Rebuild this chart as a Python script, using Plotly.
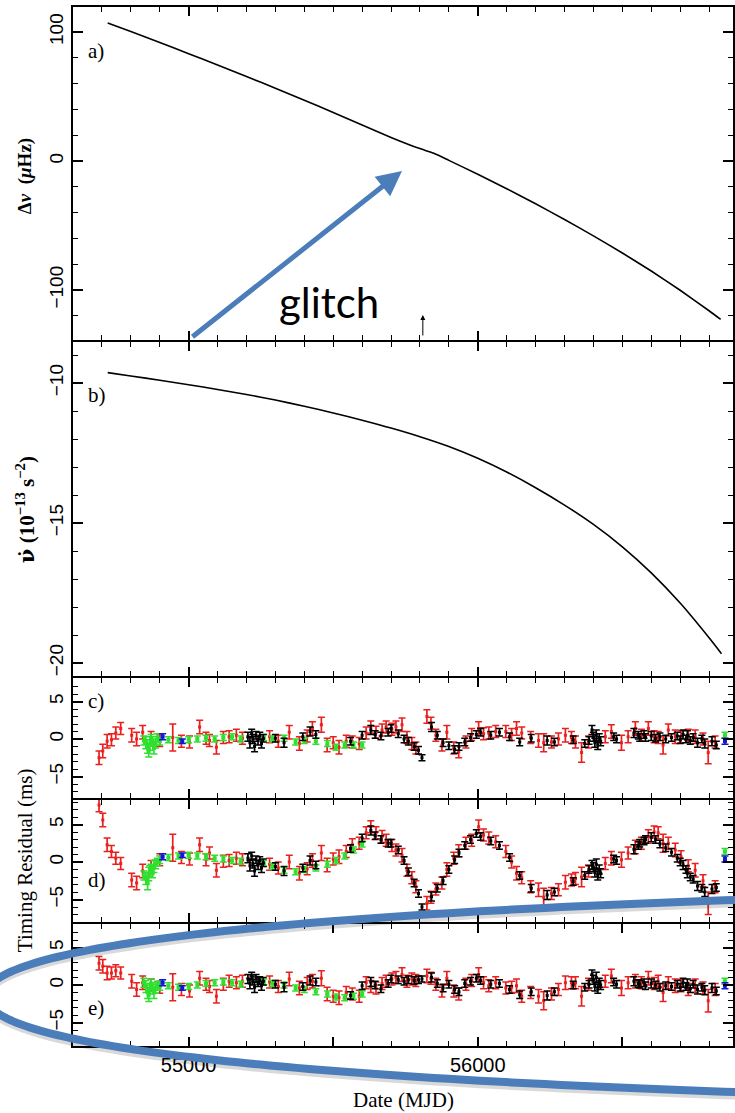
import plotly.graph_objects as go

# ---------------- data ----------------
# panel a: frequency offset (muHz)
mjd_a = [54720, 54800, 54900, 55000, 55100, 55200, 55300, 55400, 55500, 55600, 55700,
         55797, 55848, 55900, 56000, 56100, 56200, 56300, 56400, 56500, 56600, 56700,
         56800, 56840]
dnu = [107.0, 100.3, 91.8, 83.2, 74.4, 65.5, 56.4, 47.1, 37.6, 27.9, 18.3,
       9.8, 6.0, 0.5, -10.3, -21.5, -33.2, -45.3, -58.0, -71.3, -85.3, -100.2,
       -116.1, -122.8]

# panel b: frequency derivative (1e-13 s^-2)
mjd_b = [54720, 54800, 54900, 55000, 55100, 55200, 55300, 55400, 55500, 55600, 55700,
         55800, 55900, 56000, 56100, 56200, 56300, 56400, 56500, 56600, 56700, 56800,
         56843]
nudot = [-9.63, -9.75, -9.90, -10.06, -10.23, -10.41, -10.61, -10.83, -11.07, -11.33, -11.61,
         -11.92, -12.27, -12.69, -13.18, -13.74, -14.36, -15.05, -15.85, -16.78, -17.86, -19.10,
         -19.67]

# residuals (ms) -- red TOAs
red_mjd = [54690, 54703, 54718, 54733, 54748, 54765, 54803, 54820, 54841, 54870,
           54900, 54945, 54975, 55003, 55038, 55060, 55072, 55096, 55120, 55140,
           55165, 55186, 55280, 55310, 55348, 55383, 55410, 55428, 55459, 55479,
           55500, 55520, 55545, 55566, 55590, 55614, 55630, 55648, 55669, 55683,
           55703, 55717, 55738, 55755, 55772, 55786, 55824, 55838, 55855, 55876,
           55893, 55917, 55934, 55959, 55979, 56003, 56020, 56038, 56062, 56097,
           56117, 56134, 56152, 56183, 56210, 56228, 56255, 56279, 56303, 56324,
           56338, 56359, 56383, 56441, 56462, 56497, 56520, 56545, 56566, 56590,
           56610, 56624, 56641, 56659, 56683, 56703, 56728, 56752, 56779, 56797,
           56821]
red_c = [-2.5, -1.6, -0.3, -0.1, 0.8, 1.4, 0.5, 0.0, 0.9, 0.2,
         -0.2, 0.2, -0.3, -0.4, 1.6, 0.1, -0.2, -1.1, 0.2, 0.3,
         0.5, 0.1, 0.3, -0.3, 0.9, -0.6, 0.4, 1.4, 1.9, -0.8,
         -0.5, -1.1, -0.3, -0.4, -0.6, 0.8, 1.6, 0.9, 1.2, 1.6,
         1.3, 1.6, 1.9, 0.2, -0.6, -1.2, 3.0, 2.1, 0.5, -0.8,
         0.9, -1.2, -1.7, -0.4, 0.6, 1.4, 0.7, 0.8, 1.0, 1.0,
         0.6, 1.4, 0.8, 0.2, -0.2, -0.5, -0.4, 0.0, 0.5, 0.2,
         -0.4, -1.8, -0.4, 0.3, 1.0, -0.5, 0.3, 1.4, 0.5, 1.4,
         0.3, 0.2, -0.8, 1.2, 0.3, 0.3, 0.5, 0.3, 0.0, -1.8,
         -0.4]
red_d = [7.6, 5.6, 2.3, 1.4, 0.5, -0.2, -2.4, -2.8, -1.2, -0.6,
         0.3, 1.9, 0.6, 0.4, 2.3, 0.3, 1.2, -1.1, 0.1, 0.2,
         0.5, 0.3, -0.3, -0.8, 0.0, -1.5, -0.9, 0.2, 1.2, -0.4,
         0.4, 0.7, 1.4, 2.3, 2.5, 3.9, 4.7, 3.9, 3.4, 2.9,
         2.2, 1.6, 0.9, -1.1, -2.1, -3.3, -5.5, -4.7, -3.6, -2.8,
         -1.0, 0.5, 1.5, 2.5, 2.9, 4.7, 3.6, 3.2, 2.7, 1.4,
         0.0, -1.5, -2.1, -3.3, -3.7, -4.7, -4.2, -3.7, -2.7, -2.4,
         -2.2, -2.0, -1.2, -0.2, 0.5, 0.3, 1.2, 2.0, 2.5, 3.4,
         4.0, 3.9, 2.5, 2.5, 1.6, 0.7, -0.5, -1.1, -2.5, -5.5,
         -3.3]
red_e = [2.9, 2.5, 1.6, 1.6, 1.9, 1.6, 0.5, -0.6, 0.3, 0.0,
         -0.3, -0.3, -0.6, -0.8, 0.9, 0.1, -0.2, -1.5, 0.1, 0.5,
         0.3, 0.5, 0.4, -0.2, 0.8, -0.4, 0.2, 0.5, 0.9, -1.2,
         -1.5, -1.7, -1.0, -1.2, -1.5, 0.3, -0.2, -0.4, 0.2, 0.5,
         0.8, 1.0, 1.4, 0.5, 0.8, 0.6, 1.2, 0.9, 0.1, -0.8,
         0.9, -0.8, -1.2, 0.1, 0.6, 1.4, 0.3, -0.1, 0.3, -0.4,
         -0.3, -0.1, -1.5, -1.0, -1.5, -2.1, -1.2, -0.6, 0.3, 0.3,
         0.3, -1.5, 0.1, 0.5, 1.2, -0.4, 0.3, 0.5, 0.3, 0.9,
         0.2, 0.5, -1.0, 0.3, -0.1, -0.1, -0.6, -0.1, -0.4, -2.1,
         -0.6]
red_err = [0.9, 0.9, 0.9, 0.8, 0.8, 0.8, 0.9, 0.9, 0.9, 0.8,
           0.8, 1.8, 0.8, 0.8, 0.9, 0.8, 0.8, 0.9, 0.8, 0.8,
           0.8, 0.8, 0.8, 0.8, 0.9, 0.9, 0.8, 0.9, 1.0, 0.9,
           0.8, 0.9, 0.8, 0.8, 0.8, 0.8, 0.8, 0.8, 0.8, 0.8,
           0.8, 0.8, 0.9, 0.8, 0.8, 0.8, 0.9, 0.8, 0.8, 0.8,
           0.9, 0.8, 0.8, 0.8, 0.8, 0.9, 0.8, 0.8, 0.8, 0.8,
           0.8, 0.9, 0.8, 0.8, 0.9, 1.2, 0.8, 0.8, 0.9, 0.8,
           0.8, 1.3, 0.8, 0.8, 0.9, 1.0, 0.8, 0.9, 0.8, 0.9,
           0.8, 0.8, 1.2, 0.8, 0.9, 0.8, 0.8, 0.9, 0.8, 1.5,
           0.8]

# black TOAs
blk_mjd = [55205, 55212, 55218, 55222, 55228, 55233, 55240, 55246, 55252, 55258,
           55300, 55330, 55395, 55420, 55440, 55560, 55600, 55630, 55645, 55665,
           55690, 55700, 55725, 55745, 55760, 55780, 55795, 55807, 55840, 55860,
           55880, 55900, 55920, 55935, 55955, 55975, 55995, 56010, 56045, 56075,
           56110, 56145, 56185, 56240, 56265, 56330, 56370, 56385, 56395, 56400,
           56405, 56410, 56415, 56420, 56425, 56470, 56480, 56540, 56555, 56560,
           56575, 56580, 56600, 56615, 56630, 56650, 56670, 56690, 56700, 56710,
           56720, 56725, 56735, 56745, 56760, 56775, 56785, 56810, 56825]
blk_c = [0.3, -0.5, 0.8, 0.0, -1.0, 0.5, -0.2, 0.4, -0.6, 0.1,
         0.1, -0.5, 0.3, 1.0, 0.6, -0.3, 0.5, 1.2, 0.6, 0.4,
         0.9, 1.4, 0.7, 0.0, -0.3, -1.0, -1.5, -2.5, 1.6, 0.5,
         -0.5, -0.9, -1.4, -1.0, -0.4, 0.2, 0.6, 0.9, 0.5, 0.9,
         0.3, -0.4, 0.1, -0.2, -0.4, -0.1, -0.6, -0.2, 1.2, 0.3,
         -0.5, 0.5, -0.8, 0.1, -0.3, 0.3, 0.0, 0.8, 0.5, 0.2,
         0.6, 0.2, 0.4, 0.1, 0.3, 0.0, 0.2, 0.4, -0.1, 0.6,
         0.0, 0.5, -0.2, 0.2, -0.5, 0.0, -0.6, -0.3, -0.8]
blk_d = [0.5, -0.5, 0.8, -0.2, -1.2, 0.3, -0.4, 0.2, -0.8, -0.1,
         -0.6, -1.2, -0.8, 0.2, -0.4, 1.8, 3.2, 4.2, 3.5, 3.0,
         2.5, 2.5, 1.6, 0.2, -1.3, -2.8, -4.2, -6.0, -4.6, -3.5,
         -2.5, -1.0, 0.3, 1.2, 2.2, 3.0, 3.8, 3.4, 2.8, 2.2,
         0.6, -1.8, -3.5, -4.4, -4.0, -2.6, -1.8, -1.0, -0.4, -0.7,
         -1.4, -0.3, -1.8, -1.0, -1.5, 0.4, 0.2, 1.7, 2.2, 2.5,
         2.8, 3.0, 3.3, 3.0, 2.4, 1.9, 1.3, 0.5, 0.0, -0.4,
         -1.0, -1.5, -2.0, -2.3, -3.2, -3.5, -4.0, -3.6, -3.4]
blk_e = [0.8, 0.2, 1.2, 0.6, -0.3, 0.9, 0.4, 0.6, -0.1, 0.5,
         0.1, -0.3, -0.2, 0.6, 0.4, -1.4, -0.1, 0.4, 0.0, -0.5,
         0.2, 0.8, 0.7, 0.5, 0.7, 0.6, 0.7, 0.8, 1.0, 0.2,
         -0.4, 0.1, -0.6, -0.9, 0.2, 0.5, 0.9, 0.6, 0.1, 0.2,
         -0.6, -1.3, -0.9, -1.4, -0.9, 0.0, -0.3, 0.1, 1.4, 0.7,
         -0.2, 1.0, -0.5, 0.3, 0.0, 0.4, 0.1, 0.5, 0.2, 0.1,
         0.3, -0.1, 0.2, 0.0, -0.3, -0.1, -0.2, 0.1, -0.3, 0.3,
         -0.2, 0.2, -0.5, 0.1, -0.6, -0.3, -0.7, -0.4, -0.8]
blk_err = [0.6, 0.7, 0.5, 0.6, 0.7, 0.5, 0.6, 0.5, 0.6, 0.5,
           0.5, 0.6, 0.5, 0.6, 0.5, 0.5, 0.5, 0.6, 0.5, 0.5,
           0.5, 0.5, 0.5, 0.5, 0.5, 0.5, 0.5, 0.4, 0.6, 0.5,
           0.5, 0.5, 0.5, 0.5, 0.5, 0.5, 0.5, 0.5, 0.5, 0.5,
           0.5, 0.5, 0.5, 0.6, 0.5, 0.5, 0.5, 0.5, 0.6, 0.6,
           0.6, 0.7, 0.6, 0.6, 0.6, 0.5, 0.5, 0.6, 0.5, 0.5,
           0.5, 0.5, 0.6, 0.5, 0.5, 0.5, 0.5, 0.5, 0.5, 0.6,
           0.5, 0.6, 0.5, 0.5, 0.6, 0.5, 0.6, 0.6, 0.5]

# green TOAs
grn_mjd = [54845, 54852, 54858, 54862, 54866, 54870, 54875, 54880, 54886, 54892,
           54900, 54930, 54965, 55000, 55030, 55060, 55090, 55120, 55150, 55180,
           55260, 55290, 55330, 55370, 55400, 55440, 55480, 55510, 55540, 55570,
           55600, 56855]
grn_c = [-0.2, -0.5, -1.0, -1.5, -0.8, 0.0, -0.3, -1.2, -0.6, 0.2,
         -0.3, -0.1, -0.2, -0.1, 0.0, 0.1, 0.0, 0.2, 0.3, 0.0,
         0.2, 0.0, 0.1, -0.4, -0.2, -0.3, -0.6, -1.1, -0.8, -0.8,
         -0.8, 0.5]
grn_d = [-1.8, -2.2, -2.8, -1.6, -1.2, -0.9, -1.5, -0.6, -0.3, 0.0,
         0.3, 0.6, 0.8, 0.9, 0.8, 0.7, 0.5, 0.4, 0.2, 0.1,
         -0.2, -0.6, -1.1, -1.3, -1.0, -0.8, -0.3, 0.2, 0.8, 1.6,
         2.4, 1.4]
grn_e = [0.3, -0.2, -0.9, -1.3, -0.5, 0.2, -0.3, -1.0, -0.5, 0.0,
         -0.2, -0.1, -0.3, -0.2, 0.0, 0.2, 0.3, 0.4, 0.3, 0.1,
         0.4, 0.2, 0.0, -0.4, -0.6, -0.9, -1.2, -1.6, -1.7, -1.5,
         -1.2, 0.5]
grn_err = [0.6, 0.8, 0.9, 0.9, 0.7, 0.6, 0.6, 0.8, 0.6, 0.5,
           0.5, 0.4, 0.4, 0.4, 0.4, 0.4, 0.4, 0.4, 0.4, 0.4,
           0.4, 0.4, 0.4, 0.4, 0.4, 0.4, 0.4, 0.4, 0.4, 0.4,
           0.4, 0.4]

# blue TOAs
blu_mjd = [54910, 54978, 56855]
blu_c = [0.3, -0.3, -0.3]
blu_d = [0.7, 0.9, 0.4]
blu_e = [0.3, -0.4, -0.1]
blu_err = [0.4, 0.3, 0.4]

x_ticks = [54500, 55000, 55500, 56000, 56500, 57000]
x_ticktext = ["", "55000", "", "56000", "", ""]

# ---------------- geometry ----------------
W, H = 735, 1113
ML, MR, MT, MB = 73, 0, 7, 67
PW = W - ML - MR
PH = H - MT - MB


def px(xp):
    return (xp - ML) / PW


def py(yp):
    return (H - MB - yp) / PH


# pixel extents of each panel's plotting area (top, bottom)
panel_px = [(7, 340), (342, 676), (678, 798), (800, 922), (924, 1046)]
# pixel calibration: (value, pixel y, pixels per unit)
calib = [(0, 161, 1.29), (-10, 383, 28.0), (0, 739, 7.5), (0, 862, 7.5), (0, 985, 7.5)]
domains = []
yranges = []
for (t, b), (v0, p0, s) in zip(panel_px, calib):
    domains.append([max(0.0, py(b)), min(1.0, py(t))])
    yranges.append([v0 - (b - p0) / s, v0 + (p0 - t) / s])

RED = "#e8201e"
GRN = "#2fe02f"
BLU = "#1515d8"
BLK = "#000000"
ELL = "#4a7dba"

fig = go.Figure()

fig.add_trace(go.Scatter(x=mjd_a, y=dnu, mode="lines",
                         line=dict(color="black", width=1.6, shape="spline", smoothing=0.5),
                         xaxis="x", yaxis="y", showlegend=False))
fig.add_trace(go.Scatter(x=mjd_b, y=nudot, mode="lines",
                         line=dict(color="black", width=1.6, shape="spline", smoothing=0.8),
                         xaxis="x2", yaxis="y2", showlegend=False))


def add_res(xs, ys, errs, color, ax, ay, msize):
    fig.add_trace(go.Scatter(
        x=xs, y=ys, mode="markers", xaxis=ax, yaxis=ay, showlegend=False,
        marker=dict(symbol="square", size=msize, color=color),
        error_y=dict(type="data", array=errs, visible=True, color=color, thickness=1.7, width=3.5)))


for i, (rv, bv, gv, uv) in enumerate([(red_c, blk_c, grn_c, blu_c),
                                       (red_d, blk_d, grn_d, blu_d),
                                       (red_e, blk_e, grn_e, blu_e)]):
    ax = "x%d" % (i + 3)
    ay = "y%d" % (i + 3)
    add_res(red_mjd, rv, red_err, RED, ax, ay, 3)
    add_res(grn_mjd, gv, grn_err, GRN, ax, ay, 4)
    add_res(blk_mjd, bv, blk_err, BLK, ax, ay, 3)
    add_res(blu_mjd, uv, blu_err, BLU, ax, ay, 4)

xrange_ = [54600, 54600 + PW / 0.29]
ytickvals = [[-100, 0, 100], [-20, -15, -10], [-5, 0, 5], [-5, 0, 5], [-5, 0, 5]]
yminor = [dict(dtick=20, tick0=0), dict(dtick=1, tick0=0), dict(dtick=1, tick0=0),
          dict(dtick=1, tick0=0), dict(dtick=1, tick0=0)]

tickfont = dict(family="Liberation Sans", size=19, color="black")
layout = dict(width=W, height=H, margin=dict(l=ML, r=MR, t=MT, b=MB),
              paper_bgcolor="white", plot_bgcolor="white", showlegend=False)

for i in range(5):
    sx = "" if i == 0 else str(i + 1)
    layout["xaxis" + sx] = dict(
        domain=[0, 1], anchor="y" + sx, range=xrange_, tickmode="array",
        tickvals=x_ticks, ticktext=x_ticktext, showticklabels=(i == 4),
        ticks="inside", ticklen=9, tickwidth=1.5, tickcolor="black",
        showline=True, linewidth=2, linecolor="black", mirror="allticks",
        showgrid=False, zeroline=False, tickfont=dict(family="Liberation Sans", size=20, color="black"),
        minor=dict(ticks="inside", ticklen=5, tickwidth=1.3, tickcolor="black",
                   tickmode="linear", tick0=54600, dtick=100, showgrid=False),
        matches=None if i == 0 else "x")
    layout["yaxis" + sx] = dict(
        domain=domains[i], anchor="x" + sx, range=yranges[i], tickmode="array",
        tickvals=ytickvals[i], tickangle=-90, ticks="inside", ticklen=10, tickwidth=1.5,
        tickcolor="black", showline=True, linewidth=2, linecolor="black", mirror="allticks",
        showgrid=False, zeroline=False, tickfont=tickfont,
        minor=dict(ticks="inside", ticklen=5, tickwidth=1.3, tickcolor="black",
                   showgrid=False, **yminor[i]))

fig.update_layout(**layout)

serif = "Liberation Serif"
annos = []
# panel labels
for lab, yp in [("a)", 51), ("b)", 395), ("c)", 701), ("d)", 880), ("e)", 1008)]:
    annos.append(dict(x=px(86), y=py(yp), xref="paper", yref="paper", text=lab, showarrow=False,
                      xanchor="left", yanchor="middle", font=dict(family=serif, size=21, color="black")))
# axis titles
annos.append(dict(x=px(25), y=py(176), xref="paper", yref="paper", textangle=-90, showarrow=False,
                  xanchor="center", yanchor="middle",
                  text="<b>Δ<i>ν</i>  (<i>μ</i>Hz)</b>", font=dict(family=serif, size=19, color="black")))
annos.append(dict(x=px(25), y=py(510), xref="paper", yref="paper", textangle=-90, showarrow=False,
                  xanchor="center", yanchor="middle",
                  text="<b><span style=\"font-family:'DejaVu Serif'\">ν̇</span> (10<sup>−13</sup> s<sup>−2</sup>)</b>",
                  font=dict(family=serif, size=21, color="black")))
annos.append(dict(x=px(25), y=py(860), xref="paper", yref="paper", textangle=-90, showarrow=False,
                  xanchor="center", yanchor="middle",
                  text="Timing Residual (ms)", font=dict(family=serif, size=21, color="black")))
annos.append(dict(x=px(404), y=py(1100), xref="paper", yref="paper", showarrow=False,
                  xanchor="center", yanchor="middle",
                  text="Date (MJD)", font=dict(family=serif, size=21, color="black")))
# glitch epoch marker
annos.append(dict(x=55810, y=py(315), xref="x", yref="paper", ax=0, ay=22, showarrow=True,
                  arrowhead=2, arrowsize=1, arrowwidth=1, arrowcolor="black", text=""))
# overlay: glitch label and arrow
annos.append(dict(x=px(330), y=py(302), xref="paper", yref="paper", showarrow=False, text="glitch",
                  xanchor="center", yanchor="middle",
                  font=dict(family="Lato", size=42, color="black")))
annos.append(dict(x=px(403), y=py(171), xref="paper", yref="paper", ax=-211, ay=167,
                  showarrow=True, arrowhead=2, arrowsize=1.0, arrowwidth=5, arrowcolor=ELL, text=""))
fig.update_layout(annotations=annos)

# overlay ellipse (decoration), traced as a closed path in pixel space
cy = 996.0
tip = -15.0
upper = []
lower = []
for k in range(0, 80):
    u = (k / 79.0) ** 2 * 780.0
    h = 5.086 * u ** 0.5 - 0.0577 * u
    upper.append((tip + u, cy - h))
    lower.append((tip + u, cy + h))
pts = upper + lower[::-1]


def ell_path(dy):
    return "M " + " L ".join("%.5f,%.5f" % (px(xx), py(yy + dy)) for xx, yy in pts) + " Z"


fig.add_shape(type="path", xref="paper", yref="paper", path=ell_path(3),
              line=dict(color="rgba(0,0,0,0.15)", width=9), layer="above")
fig.add_shape(type="path", xref="paper", yref="paper", path=ell_path(0),
              line=dict(color=ELL, width=8), layer="above")

fig.write_html("out.html")
